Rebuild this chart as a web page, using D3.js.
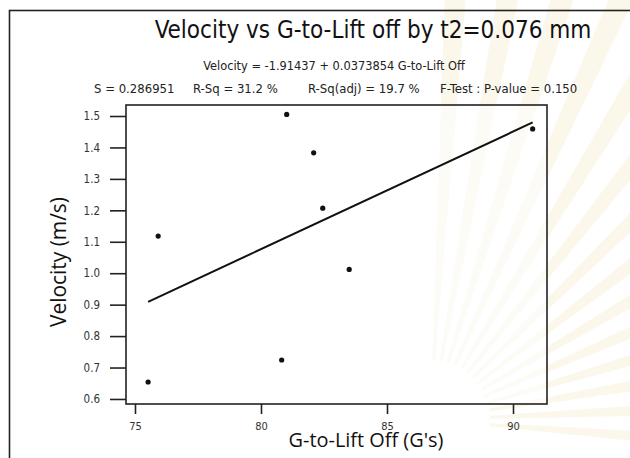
<!DOCTYPE html>
<meta charset="utf-8">
<head>
<style>
body {
  margin: 0;
  background: #fff;
  font-family: 'DejaVu Sans Condensed', 'DejaVu Sans', sans-serif;
}
.axis path { display: none; }
.axis line { stroke: #222; stroke-width: 1.6px; }
.axis text { fill: #333; font-family: 'DejaVu Sans Condensed', sans-serif; }
.frame { fill: none; stroke: #222; stroke-width: 1.6px; }
.fit { fill: none; stroke: #111; stroke-width: 2px; }
.dot { fill: #111; }
.ray { fill: #f2e4b8; opacity: 0.28; }
</style>
</head>
<body>
<div id="chart"></div>
<script src="https://d3js.org/d3.v7.min.js"></script>
<script>

// G-to-Lift Off (G's) and Velocity (m/s)
var gLift    = [75.52, 75.92, 80.82, 81.02, 82.09, 82.45, 83.50, 90.78];
var velocity = [0.654, 1.118, 0.724, 1.505, 1.383, 1.207, 1.012, 1.459];

var xTicks = [75, 80, 85, 90];
var yTicks = [0.6, 0.7, 0.8, 0.9, 1.0, 1.1, 1.2, 1.3, 1.4, 1.5];

var intercept = -1.91437,
    slope = 0.0373854;

var title = "Velocity vs G-to-Lift off by t2=0.076 mm",
    equation = "Velocity = -1.91437 + 0.0373854 G-to-Lift Off",
    stats = ["S = 0.286951", "R-Sq = 31.2 %", "R-Sq(adj) = 19.7 %", "F-Test : P-value = 0.150"];

var W = 630, H = 458;
var margin = {top: 105, right: 83, bottom: 54, left: 126},
    width = W - margin.left - margin.right,
    height = H - margin.top - margin.bottom;

var x = d3.scaleLinear().domain([74.643, 91.349]).range([0, width]);
var y = d3.scaleLinear().domain([0.584, 1.535]).range([height, 0]);

var svg = d3.select("#chart").append("svg")
    .attr("width", W)
    .attr("height", H);

// faint watermark rays of the scanned page
var rays = d3.range(-88, 8, 7);
var wedge = d3.arc().innerRadius(60).outerRadius(520);
svg.append("g")
    .attr("transform", "translate(430,420)")
  .selectAll(".ray")
    .data(rays)
  .enter().append("path")
    .attr("class", "ray")
    .attr("d", function(a) {
      var r = a * Math.PI / 180 + Math.PI / 2;
      return wedge({startAngle: r, endAngle: r + 0.05});
    });

// outer border of the figure (runs off the page right and bottom)
svg.append("rect")
    .attr("class", "frame")
    .attr("x", 9.5).attr("y", 10.5)
    .attr("width", W).attr("height", H);

// squeeze/stretch a text to a target width by font size
function fit(t, w) {
  var fs = parseFloat(t.style("font-size"));
  var len = t.node().getComputedTextLength();
  t.style("font-size", (fs * w / len) + "px");
}

var tt = svg.append("text")
    .attr("x", 373).attr("y", 38)
    .attr("text-anchor", "middle")
    .style("font-size", "22px")
    .style("fill", "#111")
    .text(title);
fit(tt, 437);

var eq = svg.append("text")
    .attr("x", 334).attr("y", 70)
    .attr("text-anchor", "middle")
    .style("font-size", "12px")
    .style("fill", "#222")
    .text(equation);
fit(eq, 262);

var statX = [94, 193, 308, 440];
svg.selectAll(".stat")
    .data(stats)
  .enter().append("text")
    .attr("class", "stat")
    .attr("x", function(d, i) { return statX[i]; })
    .attr("y", 93)
    .style("font-size", "13px")
    .style("fill", "#222")
    .text(function(d) { return d; });

var g = svg.append("g")
    .attr("transform", "translate(" + margin.left + "," + margin.top + ")");

g.append("rect")
    .attr("width", width)
    .attr("height", height)
    .style("fill", "#fff")
    .style("fill-opacity", 0.55);

g.append("rect")
    .attr("class", "frame")
    .attr("width", width)
    .attr("height", height);

g.append("g")
    .attr("class", "x axis")
    .attr("transform", "translate(0," + height + ")")
    .call(d3.axisBottom(x).tickValues(xTicks).tickSize(10).tickPadding(8).tickFormat(d3.format("d")))
    .selectAll("text").style("font-size", "11px");

g.append("g")
    .attr("class", "y axis")
    .call(d3.axisLeft(y).tickValues(yTicks).tickSize(16).tickPadding(10).tickFormat(d3.format(".1f")))
    .selectAll("text").style("font-size", "11.5px");

var xr = d3.extent(gLift);
g.append("line")
    .attr("class", "fit")
    .attr("x1", x(xr[0])).attr("y1", y(intercept + slope * xr[0]))
    .attr("x2", x(xr[1])).attr("y2", y(intercept + slope * xr[1]));

g.selectAll(".dot")
    .data(gLift)
  .enter().append("circle")
    .attr("class", "dot")
    .attr("cx", function(d) { return x(d); })
    .attr("cy", function(d, i) { return y(velocity[i]); })
    .attr("r", 2.6);

var xl = svg.append("text")
    .attr("x", 366).attr("y", 447)
    .attr("text-anchor", "middle")
    .style("font-family", "'Open Sans', sans-serif")
    .style("font-size", "20px")
    .style("fill", "#111")
    .text("G-to-Lift Off (G's)");
fit(xl, 155);

var yl = svg.append("text")
    .attr("transform", "translate(66,262) rotate(-90)")
    .attr("text-anchor", "middle")
    .style("font-family", "'Open Sans', sans-serif")
    .style("font-size", "18px")
    .style("fill", "#111")
    .text("Velocity (m/s)");
fit(yl, 130);

</script>
</body>
